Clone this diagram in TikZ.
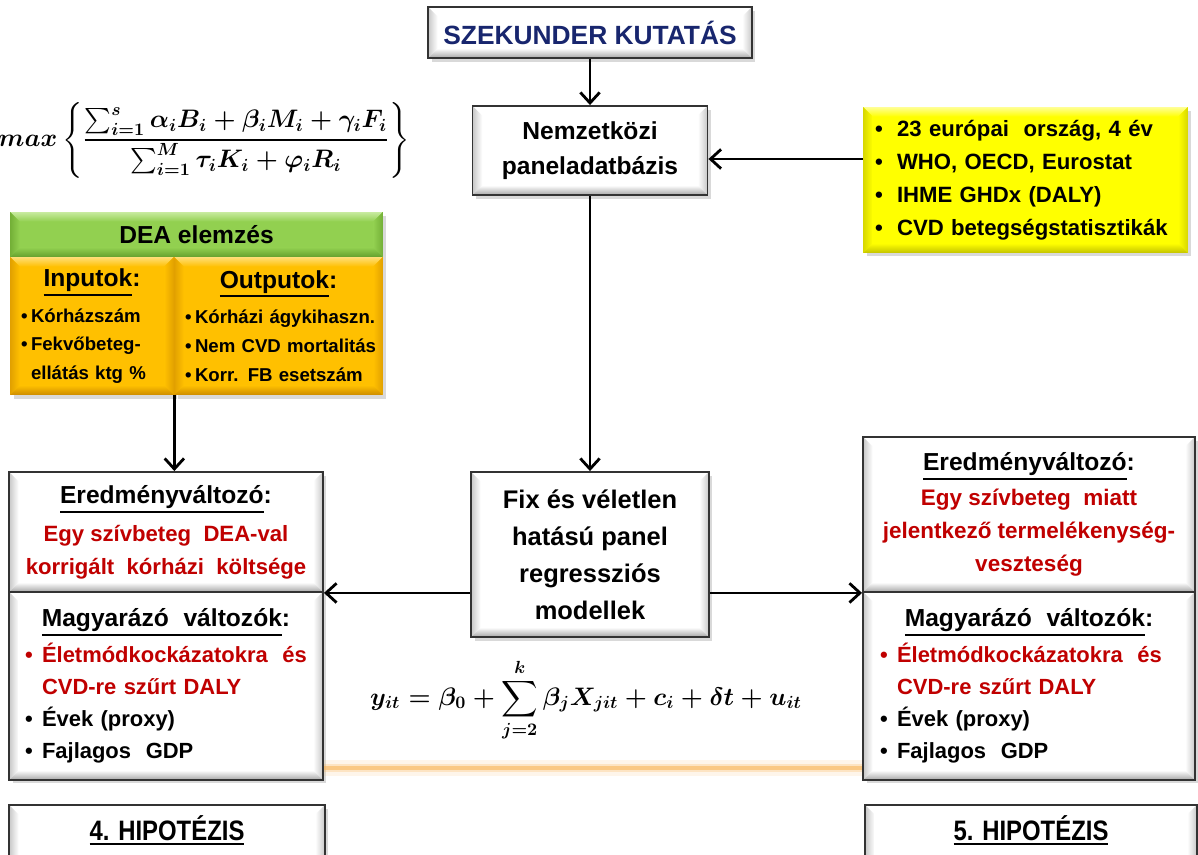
\documentclass[tikz,border=0pt]{standalone}
\usepackage[no-math]{fontspec}
\setmainfont{Liberation Sans}
\usepackage{amsmath}
\usetikzlibrary{arrows.meta,shadows,calc}
\setlength\parindent{0pt}
\hyphenpenalty=10000
\exhyphenpenalty=10000

\definecolor{navy}{RGB}{24,38,110}
\definecolor{dred}{RGB}{192,0,0}
\definecolor{ybase}{RGB}{255,255,0}
\definecolor{ytop}{RGB}{255,255,150}
\definecolor{yside}{RGB}{215,215,0}
\definecolor{ybot}{RGB}{195,195,0}
\definecolor{obase}{RGB}{255,192,0}
\definecolor{otop}{RGB}{255,222,120}
\definecolor{oside}{RGB}{225,160,0}
\definecolor{obot}{RGB}{205,140,0}
\definecolor{gbase}{RGB}{146,208,80}
\definecolor{gtop}{RGB}{200,235,160}
\definecolor{gside}{RGB}{115,175,55}
\definecolor{gbot}{RGB}{100,160,45}
\definecolor{glow}{RGB}{248,176,80}

\newlength\bevw
\setlength\bevw{5.5pt}
% underline with a heavier rule below the descenders
\newcommand\uln[1]{\leavevmode\setbox0=\hbox{#1}\vtop{\copy0\kern1.3pt\hrule height 1.1pt}}
% bullet in a fixed-width slot
\newcommand\blt[2]{\leavevmode\hbox to #1{\color{#2}\textbullet\hss}}
% centred heading line inside a left-aligned block
\newcommand\hdl[1]{\leavevmode\hbox to \hsize{\hss#1\hss}}
% one unbreakable list line
\newcommand\oneline[1]{\leavevmode\hbox{#1}}

\newsavebox\maxbox
\newsavebox\panelbox

\tikzset{
  bevel/.style n args={5}{fill=#1, path picture={
    \coordinate (bnw) at (path picture bounding box.north west);
    \coordinate (bne) at (path picture bounding box.north east);
    \coordinate (bsw) at (path picture bounding box.south west);
    \coordinate (bse) at (path picture bounding box.south east);
    \shade[top color=#2, bottom color=#1] (bnw) -- (bne) -- ([shift={(-\bevw,-\bevw)}]bne) -- ([shift={(\bevw,-\bevw)}]bnw) -- cycle;
    \shade[left color=#3, right color=#1] (bnw) -- (bsw) -- ([shift={(\bevw,\bevw)}]bsw) -- ([shift={(\bevw,-\bevw)}]bnw) -- cycle;
    \shade[left color=#1, right color=#4] (bne) -- (bse) -- ([shift={(-\bevw,\bevw)}]bse) -- ([shift={(-\bevw,-\bevw)}]bne) -- cycle;
    \shade[top color=#1, bottom color=#5] (bsw) -- (bse) -- ([shift={(-\bevw,\bevw)}]bse) -- ([shift={(\bevw,\bevw)}]bsw) -- cycle;
  }},
  shad/.style={drop shadow={opacity=0.3,shadow xshift=2pt,shadow yshift=-2pt}},
  box/.style={draw=black!80, line width=1.1pt, shad,
    bevel={white}{white}{black!22}{black!22}{black!35},
    inner sep=0pt, align=center,
    font=\bfseries\fontsize{14}{20}\selectfont},
  ybox/.style={shad, bevel={ybase}{ytop}{yside}{yside}{ybot},
    inner sep=0pt, align=left,
    font=\bfseries\fontsize{12.6}{18.7}\selectfont},
  obox/.style={shad, bevel={obase}{otop}{oside}{oside}{obot},
    inner sep=0pt, align=left,
    font=\bfseries\fontsize{10.6}{16.4}\selectfont},
  gbox/.style={shad, bevel={gbase}{gtop}{gside}{gside}{gbot},
    inner sep=0pt, align=center,
    font=\bfseries\fontsize{14}{18}\selectfont},
  listbox/.style={box, align=left,
    font=\bfseries\fontsize{12.5}{18.2}\selectfont},
  arr/.style={line width=1.6pt, -{Straight Barb[length=6pt,width=11pt]}},
  eqn/.style={inner sep=0pt},
}

\begin{document}
% the two model equations, set once
\sbox\maxbox{\fontsize{14}{17}\selectfont\boldmath
  $\displaystyle max\left\{\frac{\sum_{i=1}^{s}\alpha_iB_i+\beta_iM_i+\gamma_iF_i}{\sum_{i=1}^{M}\tau_iK_i+\varphi_iR_i}\right\}$}%
\sbox\panelbox{\fontsize{13.8}{17}\selectfont\boldmath
  $\displaystyle y_{it}=\beta_0+\sum_{j=2}^{k}\beta_jX_{jit}+c_i+\delta t+u_{it}$}%
\begin{tikzpicture}[x=0.02cm,y=-0.02cm]
\useasboundingbox (0,0) rectangle (1198,855);

% ---- objective function ----
\node[eqn] (maxf) at (204,140) {\usebox\maxbox};

% ---- top chain ----
\node[box, minimum width=6.48cm, minimum height=1.02cm] (szek) at (590,32.5)
  {\color{navy}\fontsize{15}{18}\selectfont SZEKUNDER KUTATÁS};
\node[box, minimum width=4.7cm, minimum height=1.78cm] (nemz) at (590,150.5)
  {Nemzetközi\\paneladatbázis};
\node[ybox, minimum width=6.5cm, minimum height=2.92cm, inner xsep=0.24cm,
  text width=6.02cm] (src) at (1025.5,180)
  {\blt{0.44cm}{black}23 európai\ \ ország, 4 év\\
   \blt{0.44cm}{black}WHO, OECD, Eurostat\\
   \blt{0.44cm}{black}IHME GHDx (DALY)\\
   \blt{0.44cm}{black}CVD betegségstatisztikák};

% ---- DEA block ----
\node[gbox, minimum width=7.46cm, minimum height=0.9cm] (deah) at (196.5,234.5)
  {DEA elemzés};
\node[obox, minimum width=3.28cm, minimum height=2.76cm, inner xsep=0.22cm,
  text width=2.84cm] (inputs) at (92,326)
  {\hdl{\fontsize{14}{18}\selectfont\uln{Inputok}:}\\[4pt]
   \blt{0.2cm}{black}\oneline{Kórházszám}\\
   \blt{0.2cm}{black}\oneline{Fekvőbeteg-}\\
   \hspace*{0.2cm}\oneline{ellátás ktg \%}};
\node[obox, minimum width=4.18cm, minimum height=2.76cm, inner xsep=0.22cm,
  text width=3.74cm] (outputs) at (278.5,326)
  {\hdl{\fontsize{14}{18}\selectfont\uln{Outputok}:}\\[4pt]
   \blt{0.2cm}{black}\oneline{Kórházi ágykihaszn.}\\
   \blt{0.2cm}{black}\oneline{Nem CVD mortalitás}\\
   \blt{0.2cm}{black}\oneline{Korr. FB esetszám}};

% ---- regression model ----
\node[box, minimum width=4.76cm, minimum height=3.3cm,
  font=\bfseries\fontsize{14.5}{21}\selectfont] (fix) at (590,554.5)
  {Fix és véletlen\\hatású panel\\regressziós\\modellek};
\node[eqn] (yf) at (586,700) {\usebox\panelbox};

% ---- left outcome model ----
\node[box, minimum width=6.28cm, minimum height=2.4cm,
  font=\bfseries\fontsize{12.6}{18.7}\selectfont] (lefttop) at (166,532)
  {{\fontsize{14}{18}\selectfont\uln{Eredményváltozó}:}\\[3pt]
   \textcolor{dred}{Egy szívbeteg\ \ DEA-val}\\
   \textcolor{dred}{korrigált\ \ kórházi\ \ költsége}};
\node[listbox, minimum width=6.28cm, minimum height=3.76cm, inner xsep=0.32cm,
  text width=5.64cm] (leftbot) at (166,686)
  {\hdl{\fontsize{14}{18}\selectfont\uln{Magyarázó\ \ változók}:}\\[2pt]
   \blt{0.34cm}{dred}\textcolor{dred}{Életmódkockázatokra\ \ és}\\
   \hspace*{0.34cm}\textcolor{dred}{CVD-re szűrt DALY}\\
   \blt{0.34cm}{black}Évek (proxy)\\
   \blt{0.34cm}{black}Fajlagos\ \ GDP};

% ---- right outcome model ----
\node[box, minimum width=6.64cm, minimum height=3.1cm,
  font=\bfseries\fontsize{12.8}{18.7}\selectfont] (righttop) at (1029,514.5)
  {{\fontsize{14}{18}\selectfont\uln{Eredményváltozó}:}\\[1pt]
   \textcolor{dred}{Egy szívbeteg\ \ miatt}\\
   \textcolor{dred}{jelentkező termelékenység-}\\
   \textcolor{dred}{veszteség}};
\node[listbox, minimum width=6.64cm, minimum height=3.76cm, inner xsep=0.34cm,
  text width=5.96cm] (rightbot) at (1029,686)
  {\hdl{\fontsize{14}{18}\selectfont\uln{Magyarázó\ \ változók}:}\\[2pt]
   \blt{0.34cm}{dred}\textcolor{dred}{Életmódkockázatokra\ \ és}\\
   \hspace*{0.34cm}\textcolor{dred}{CVD-re szűrt DALY}\\
   \blt{0.34cm}{black}Évek (proxy)\\
   \blt{0.34cm}{black}Fajlagos\ \ GDP};

% ---- hypotheses ----
\node[box, minimum width=6.32cm, minimum height=1.4cm] (hyp4) at (167,840) {};
\node[inner sep=0pt, font=\bfseries\fontsize{16}{18}\selectfont] (hyp4t) at (167,830)
  {\scalebox{0.85}[1]{\uln{4. HIPOTÉZIS}}};
\node[box, minimum width=6.64cm, minimum height=1.4cm] (hyp5) at (1031,840) {};
\node[inner sep=0pt, font=\bfseries\fontsize{16}{18}\selectfont] (hyp5t) at (1031,830)
  {\scalebox{0.85}[1]{\uln{5. HIPOTÉZIS}}};

% ---- soft glow joining the two models ----
\coordinate (glowL) at ([yshift=0.26cm]leftbot.south east);
\coordinate (glowR) at (rightbot.west |- glowL);
\draw[glow, line width=9pt, opacity=0.12] (glowL) -- (glowR);
\draw[glow, line width=5pt, opacity=0.25] (glowL) -- (glowR);
\draw[glow, line width=2pt, opacity=0.55] (glowL) -- (glowR);

% ---- connectors ----
\draw[arr] (szek) -- (nemz);
\coordinate (yin) at ([yshift=0.42cm]src.west);
\draw[arr] (yin) -- (nemz.east |- yin);
\draw[arr] (nemz) -- (fix);
\draw[arr] (inputs.south east) -- (inputs.south east |- lefttop.north);
\draw[arr] (fix.west |- lefttop.south east) -- (lefttop.south east);
\draw[arr] (fix.east |- righttop.south west) -- (righttop.south west);
\end{tikzpicture}
\end{document}
